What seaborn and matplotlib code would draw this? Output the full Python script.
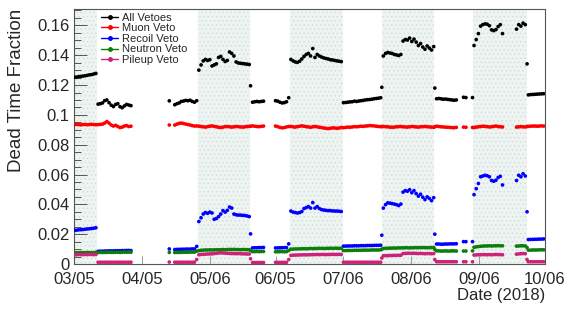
import matplotlib
matplotlib.use("Agg")
import matplotlib.pyplot as plt
from matplotlib.lines import Line2D
from matplotlib.ticker import MultipleLocator, FuncFormatter
import seaborn as sns
import numpy as np
import pandas as pd

# run periods (day offset from 2018-03-05) shared by every series
seg_start = [0, 11, 43.5, 46, 57, 80.6, 81.5, 92, 99, 123, 140.5, 141.2,
             164.7, 165.5, 177.8, 178.9, 181.9, 182.6, 202, 206.8, 207.4]

all_vetoes = [
    [0.1252, 0.1253, 0.1256, 0.1258, 0.1260, 0.1262, 0.1265, 0.1268, 0.1270, 0.1274, 0.1278],
    [0.1072, 0.1075, 0.1080, 0.1095, 0.1100, 0.1082, 0.1065, 0.1056, 0.1070, 0.1075, 0.1055,
     0.1048, 0.1060, 0.1070, 0.1066, 0.1062],
    [0.1094],
    [0.1068, 0.1075, 0.1080, 0.1090, 0.1093, 0.1097, 0.1095, 0.1098, 0.1090, 0.1085, 0.1095],
    [0.1300, 0.1335, 0.1362, 0.1372, 0.1365, 0.1370, 0.1328, 0.1335, 0.1342, 0.1385, 0.1392,
     0.1372, 0.1358, 0.1365, 0.1422, 0.1412, 0.1395, 0.1355, 0.1348, 0.1346, 0.1344, 0.1342,
     0.1340, 0.1338],
    [0.1195],
    [0.1085, 0.1088, 0.1090, 0.1088, 0.1090, 0.1092],
    [0.1095, 0.1092, 0.1085, 0.1080, 0.1082, 0.1088, 0.1115],
    [0.1372, 0.1362, 0.1355, 0.1352, 0.1360, 0.1375, 0.1392, 0.1405, 0.1412, 0.1395, 0.1445,
     0.1385, 0.1405, 0.1395, 0.1388, 0.1382, 0.1378, 0.1375, 0.1370, 0.1368, 0.1365, 0.1362,
     0.1360, 0.1357],
    [0.1082, 0.1083, 0.1085, 0.1087, 0.1088, 0.1092, 0.1090, 0.1093, 0.1095, 0.1097, 0.1100,
     0.1102, 0.1103, 0.1105, 0.1108, 0.1110, 0.1112, 0.1115],
    [0.1185],
    [0.1395, 0.1412, 0.1418, 0.1415, 0.1412, 0.1405, 0.1402, 0.1398, 0.1405, 0.1495, 0.1505,
     0.1502, 0.1515, 0.1492, 0.1508, 0.1488, 0.1465, 0.1478, 0.1455, 0.1440, 0.1462, 0.1448,
     0.1435, 0.1458],
    [0.1180],
    [0.1108, 0.1110, 0.1108, 0.1105, 0.1106, 0.1104, 0.1102, 0.1100, 0.1098, 0.1100],
    [0.1118], [0.1116], [0.1116],
    [0.1465, 0.1505, 0.1545, 0.1595, 0.1605, 0.1610, 0.1608, 0.1598, 0.1570, 0.1565, 0.1572,
     0.1592, 0.1605, 0.1545],
    [0.1575, 0.1605, 0.1595, 0.1615, 0.1605],
    [0.1342],
    [0.1134, 0.1136, 0.1137, 0.1138, 0.1139, 0.1140, 0.1141, 0.1142],
]

muon_veto = [
    [0.0934, 0.0936, 0.0935, 0.0933, 0.0935, 0.0936, 0.0934, 0.0935, 0.0937, 0.0935, 0.0934],
    [0.0935, 0.0936, 0.0938, 0.0945, 0.0955, 0.0945, 0.0932, 0.0925, 0.0930, 0.0922, 0.0915,
     0.0918, 0.0925, 0.0928, 0.0922, 0.0924],
    [0.0932],
    [0.0932, 0.0938, 0.0943, 0.0945, 0.0942, 0.0938, 0.0935, 0.0932, 0.0928, 0.0925, 0.0926],
    [0.0924, 0.0922, 0.0920, 0.0918, 0.0921, 0.0924, 0.0926, 0.0923, 0.0920, 0.0917, 0.0915,
     0.0918, 0.0921, 0.0922, 0.0920, 0.0918, 0.0920, 0.0922, 0.0921, 0.0919, 0.0918, 0.0920,
     0.0922, 0.0923],
    [0.0924],
    [0.0926, 0.0924, 0.0922, 0.0921, 0.0923, 0.0925],
    [0.0925, 0.0921, 0.0916, 0.0913, 0.0915, 0.0919, 0.0922],
    [0.0922, 0.0920, 0.0918, 0.0921, 0.0924, 0.0926, 0.0924, 0.0921, 0.0919, 0.0917, 0.0920,
     0.0922, 0.0920, 0.0917, 0.0915, 0.0912, 0.0910, 0.0908, 0.0910, 0.0913, 0.0912, 0.0910,
     0.0912, 0.0915],
    [0.0914, 0.0916, 0.0918, 0.0917, 0.0919, 0.0921, 0.0920, 0.0922, 0.0924, 0.0923, 0.0925,
     0.0926, 0.0928, 0.0927, 0.0926, 0.0924, 0.0922, 0.0921],
    [0.0922],
    [0.0922, 0.0921, 0.0920, 0.0918, 0.0917, 0.0918, 0.0920, 0.0921, 0.0922, 0.0920, 0.0919,
     0.0918, 0.0920, 0.0922, 0.0921, 0.0919, 0.0918, 0.0920, 0.0921, 0.0922, 0.0921, 0.0919,
     0.0918, 0.0917],
    [0.0920],
    [0.0924, 0.0922, 0.0920, 0.0919, 0.0918, 0.0917, 0.0916, 0.0915, 0.0914, 0.0916],
    [0.0918], [0.0917], [0.0916],
    [0.0915, 0.0918, 0.0920, 0.0922, 0.0924, 0.0923, 0.0921, 0.0919, 0.0920, 0.0923, 0.0925,
     0.0922, 0.0920, 0.0919],
    [0.0918, 0.0920, 0.0921, 0.0920, 0.0919],
    [0.0922],
    [0.0923, 0.0924, 0.0925, 0.0925, 0.0924, 0.0925, 0.0926, 0.0925],
]

recoil_veto = [
    [0.0228, 0.0226, 0.0229, 0.0230, 0.0231, 0.0233, 0.0235, 0.0236, 0.0238, 0.0240, 0.0243],
    [0.0085, 0.0086, 0.0086, 0.0087, 0.0087, 0.0088, 0.0088, 0.0088, 0.0089, 0.0089, 0.0089,
     0.0090, 0.0090, 0.0091, 0.0091, 0.0090],
    [0.0101],
    [0.0097, 0.0098, 0.0098, 0.0099, 0.0099, 0.0100, 0.0100, 0.0100, 0.0101, 0.0101, 0.0118],
    [0.0285, 0.0310, 0.0335, 0.0345, 0.0340, 0.0348, 0.0342, 0.0300, 0.0305, 0.0318, 0.0335,
     0.0358, 0.0348, 0.0360, 0.0382, 0.0375, 0.0335, 0.0330, 0.0328, 0.0328, 0.0326, 0.0325,
     0.0322, 0.0318],
    [0.0202],
    [0.0108, 0.0109, 0.0109, 0.0110, 0.0110, 0.0111],
    [0.0108, 0.0108, 0.0109, 0.0109, 0.0110, 0.0110, 0.0135],
    [0.0355, 0.0348, 0.0345, 0.0342, 0.0345, 0.0352, 0.0372, 0.0378, 0.0385, 0.0375, 0.0412,
     0.0375, 0.0385, 0.0372, 0.0365, 0.0362, 0.0360, 0.0358, 0.0358, 0.0356, 0.0355, 0.0355,
     0.0354, 0.0352],
    [0.0120, 0.0120, 0.0121, 0.0121, 0.0121, 0.0122, 0.0122, 0.0122, 0.0123, 0.0123, 0.0123,
     0.0124, 0.0124, 0.0124, 0.0125, 0.0125, 0.0125, 0.0126],
    [0.0193],
    [0.0375, 0.0398, 0.0410, 0.0408, 0.0405, 0.0402, 0.0398, 0.0392, 0.0402, 0.0482, 0.0492,
     0.0488, 0.0498, 0.0478, 0.0492, 0.0472, 0.0455, 0.0468, 0.0448, 0.0432, 0.0450, 0.0440,
     0.0425, 0.0445],
    [0.0200],
    [0.0134, 0.0134, 0.0133, 0.0133, 0.0134, 0.0134, 0.0135, 0.0135, 0.0135, 0.0136],
    [0.0150], [0.0150], [0.0150],
    [0.0465, 0.0505, 0.0540, 0.0585, 0.0590, 0.0595, 0.0592, 0.0585, 0.0560, 0.0555, 0.0562,
     0.0580, 0.0588, 0.0530],
    [0.0560, 0.0595, 0.0585, 0.0605, 0.0590],
    [0.0350],
    [0.0164, 0.0165, 0.0165, 0.0166, 0.0166, 0.0167, 0.0167, 0.0168],
]

neutron_veto = [
    [0.0075, 0.0076, 0.0076, 0.0077, 0.0076, 0.0076, 0.0077, 0.0077, 0.0076, 0.0077, 0.0078],
    [0.0077, 0.0078, 0.0077, 0.0078, 0.0078, 0.0079, 0.0078, 0.0078, 0.0079, 0.0079, 0.0078,
     0.0079, 0.0080, 0.0079, 0.0080, 0.0079],
    [0.0078],
    [0.0077, 0.0078, 0.0078, 0.0078, 0.0079, 0.0079, 0.0079, 0.0080, 0.0080, 0.0080, 0.0086],
    [0.0090, 0.0092, 0.0093, 0.0094, 0.0094, 0.0095, 0.0094, 0.0095, 0.0096, 0.0095, 0.0096,
     0.0097, 0.0096, 0.0097, 0.0098, 0.0097, 0.0098, 0.0097, 0.0097, 0.0096, 0.0097, 0.0097,
     0.0096, 0.0096],
    [0.0090],
    [0.0083, 0.0083, 0.0084, 0.0083, 0.0084, 0.0084],
    [0.0082, 0.0082, 0.0083, 0.0083, 0.0082, 0.0083, 0.0090],
    [0.0100, 0.0100, 0.0101, 0.0101, 0.0102, 0.0102, 0.0103, 0.0102, 0.0103, 0.0104, 0.0103,
     0.0104, 0.0104, 0.0105, 0.0105, 0.0104, 0.0105, 0.0105, 0.0106, 0.0105, 0.0106, 0.0106,
     0.0105, 0.0106],
    [0.0090, 0.0090, 0.0091, 0.0091, 0.0091, 0.0092, 0.0092, 0.0092, 0.0092, 0.0093, 0.0093,
     0.0093, 0.0093, 0.0094, 0.0094, 0.0094, 0.0094, 0.0095],
    [0.0100],
    [0.0104, 0.0105, 0.0106, 0.0106, 0.0107, 0.0107, 0.0107, 0.0108, 0.0108, 0.0108, 0.0109,
     0.0109, 0.0108, 0.0109, 0.0109, 0.0110, 0.0109, 0.0110, 0.0110, 0.0110, 0.0109, 0.0110,
     0.0110, 0.0111],
    [0.0098],
    [0.0088, 0.0088, 0.0087, 0.0087, 0.0088, 0.0087, 0.0087, 0.0088, 0.0088, 0.0087],
    [0.0087], [0.0087], [0.0088],
    [0.0112, 0.0115, 0.0117, 0.0119, 0.0120, 0.0121, 0.0121, 0.0122, 0.0121, 0.0122, 0.0122,
     0.0123, 0.0122, 0.0122],
    [0.0120, 0.0121, 0.0122, 0.0122, 0.0121],
    [0.0110],
    [0.0093, 0.0093, 0.0094, 0.0094, 0.0094, 0.0095, 0.0095, 0.0095],
]

pileup_veto = [
    [0.0062, 0.0062, 0.0063, 0.0063, 0.0063, 0.0064, 0.0063, 0.0064, 0.0064, 0.0063, 0.0064],
    [0.0012, 0.0012, 0.0012, 0.0012, 0.0012, 0.0012, 0.0012, 0.0012, 0.0012, 0.0012, 0.0012,
     0.0012, 0.0012, 0.0012, 0.0012, 0.0012],
    [0.0013],
    [0.0012, 0.0012, 0.0012, 0.0012, 0.0012, 0.0012, 0.0012, 0.0012, 0.0012, 0.0012, 0.0030],
    [0.0062, 0.0064, 0.0065, 0.0066, 0.0067, 0.0068, 0.0068, 0.0070, 0.0072, 0.0074, 0.0075,
     0.0074, 0.0073, 0.0072, 0.0071, 0.0070, 0.0070, 0.0069, 0.0070, 0.0069, 0.0068, 0.0068,
     0.0067, 0.0067],
    [0.0035],
    [0.0010, 0.0010, 0.0010, 0.0010, 0.0010, 0.0010],
    [0.0011, 0.0011, 0.0011, 0.0011, 0.0011, 0.0011, 0.0030],
    [0.0058, 0.0059, 0.0060, 0.0060, 0.0061, 0.0061, 0.0062, 0.0061, 0.0062, 0.0062, 0.0063,
     0.0063, 0.0064, 0.0063, 0.0064, 0.0064, 0.0063, 0.0064, 0.0064, 0.0065, 0.0064, 0.0064,
     0.0065, 0.0064],
    [0.0012, 0.0012, 0.0012, 0.0012, 0.0012, 0.0012, 0.0012, 0.0012, 0.0012, 0.0012, 0.0012,
     0.0012, 0.0012, 0.0012, 0.0012, 0.0012, 0.0012, 0.0012],
    [0.0040],
    [0.0055, 0.0056, 0.0056, 0.0057, 0.0057, 0.0058, 0.0058, 0.0058, 0.0059, 0.0070, 0.0071,
     0.0072, 0.0072, 0.0071, 0.0072, 0.0071, 0.0070, 0.0071, 0.0070, 0.0069, 0.0070, 0.0070,
     0.0069, 0.0070],
    [0.0030],
    [0.0015, 0.0015, 0.0015, 0.0015, 0.0015, 0.0015, 0.0015, 0.0015, 0.0015, 0.0015],
    [0.0015], [0.0015], [0.0015],
    [0.0060, 0.0061, 0.0062, 0.0062, 0.0063, 0.0063, 0.0062, 0.0063, 0.0062, 0.0063, 0.0064,
     0.0063, 0.0063, 0.0062],
    [0.0066, 0.0068, 0.0069, 0.0070, 0.0069],
    [0.0030],
    [0.0015, 0.0015, 0.0015, 0.0015, 0.0015, 0.0015, 0.0015, 0.0015],
]

series_names = ["All Vetoes", "Muon Veto", "Recoil Veto", "Neutron Veto", "Pileup Veto"]
series_colors = ["#000000", "#ff0000", "#0000ff", "#0a7d0a", "#cc2277"]

# highlighted run periods (days)
shaded_start = [-1, 56.6, 98.6, 140.6, 182.2]
shaded_end = [10.5, 80.4, 122.8, 164.5, 206.6]

tick_dates = ["2018-03-05", "2018-04-05", "2018-05-06", "2018-06-05",
              "2018-07-06", "2018-08-06", "2018-09-06", "2018-10-06"]

rows = []
for name, segs in zip(series_names,
                      [all_vetoes, muon_veto, recoil_veto, neutron_veto, pileup_veto]):
    for start, vals in zip(seg_start, segs):
        for i, v in enumerate(vals):
            rows.append((start + i, v, name))
df = pd.DataFrame(rows, columns=["day", "fraction", "veto"])

sns.set_theme(style="white")
plt.rcParams["font.family"] = ["Liberation Sans", "DejaVu Sans"]
plt.rcParams["hatch.linewidth"] = 0.6

fig = plt.figure(figsize=(5.74, 3.09), dpi=100)
ax = fig.add_axes([0.1289, 0.1456, 0.8206, 0.8253])

for a, b in zip(shaded_start, shaded_end):
    ax.axvspan(a, b, facecolor="#eef4f2", edgecolor="#d3dfdb", hatch="....",
               linewidth=0, zorder=0)

sns.scatterplot(data=df, x="day", y="fraction", hue="veto", hue_order=series_names,
                palette=dict(zip(series_names, series_colors)), s=7, linewidth=0,
                legend=False, ax=ax, zorder=3)

t0 = pd.Timestamp(tick_dates[0])
tick_ts = pd.to_datetime(tick_dates)
ax.set_xticks([(t - t0).days for t in tick_ts])
ax.set_xticklabels([t.strftime("%m/%d") for t in tick_ts])
ax.set_xlim(0, (tick_ts[-1] - t0).days)
ax.set_ylim(0, 0.171)
ax.yaxis.set_major_locator(MultipleLocator(0.02))
ax.yaxis.set_minor_locator(MultipleLocator(0.005))
ax.yaxis.set_major_formatter(FuncFormatter(lambda v, p: f"{v:g}"))

ax.tick_params(axis="y", which="major", direction="in", length=9, width=0.7,
               color="#555555", labelsize=12, pad=3, left=True)
ax.tick_params(axis="y", which="minor", direction="in", length=5, width=0.7,
               color="#555555", left=True)
ax.tick_params(axis="x", which="major", direction="in", length=6, width=0.7,
               color="#999999", labelsize=12, pad=5.5, bottom=True)
for s in ax.spines.values():
    s.set_color("#555555")
    s.set_linewidth(0.8)

ax.set_xlabel("Date (2018)", fontsize=12, loc="right")
ax.xaxis.set_label_coords(1.0, -0.095)
ax.set_ylabel("Dead Time Fraction", fontsize=13.5, loc="top")
ax.yaxis.set_label_coords(-0.104, 1.0)

handles = [Line2D([], [], color=c, lw=1, marker="o", markersize=2.5)
           for c in series_colors]
ax.legend(handles, series_names, loc="upper left", bbox_to_anchor=(0.058, 0.985),
          frameon=False, fontsize=8, handlelength=1.5, handletextpad=0.4,
          labelspacing=0.05, borderpad=0, borderaxespad=0)

fig.savefig("out.png", dpi=100)
